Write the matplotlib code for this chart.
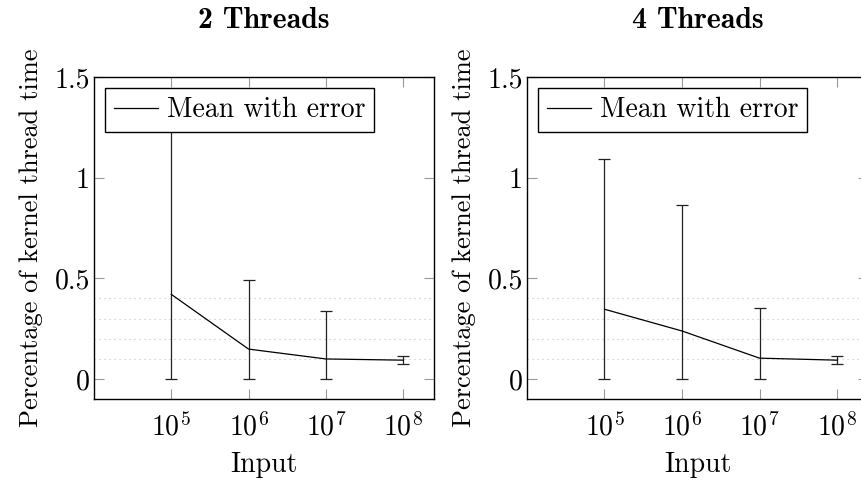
import matplotlib
matplotlib.use("Agg")
import matplotlib.pyplot as plt
from matplotlib.lines import Line2D
import numpy as np

plt.rcParams['font.family'] = ['cmr10', 'DejaVu Serif']
plt.rcParams['mathtext.fontset'] = 'cm'
plt.rcParams['axes.formatter.use_mathtext'] = True

# data
inputs = [1e5, 1e6, 1e7, 1e8]
titles = ["2 Threads", "4 Threads"]
mean_2 = [0.42, 0.148, 0.099, 0.093]
lower_2 = [0.0, 0.0, 0.0, 0.073]
upper_2 = [1.30, 0.49, 0.336, 0.114]
mean_4 = [0.346, 0.238, 0.103, 0.093]
lower_4 = [0.0, 0.0, 0.0, 0.073]
upper_4 = [1.091, 0.864, 0.351, 0.116]
grid_levels = [0.1, 0.2, 0.3, 0.4]
yticks = [0, 0.5, 1, 1.5]
ytick_labels = ["0", "0.5", "1", "1.5"]
xtick_labels = [r"$10^{5}$", r"$10^{6}$", r"$10^{7}$", r"$10^{8}$"]
legend_label = "Mean with error"
xlabel = "Input"
ylabel = "Percentage of kernel thread time"

FS = 20
W, H = 862, 480
fig = plt.figure(figsize=(W / 100, H / 100), dpi=100)

panels = [
    (94, 340, mean_2, lower_2, upper_2, titles[0]),
    (527, 341, mean_4, lower_4, upper_4, titles[1]),
]
for left, width, mean, lo, up, title in panels:
    ax = fig.add_axes([left / W, (H - 399) / H, width / W, 322 / H])
    m = np.array(mean)
    yerr = np.vstack([m - np.array(lo), np.array(up) - m])
    for g in grid_levels:
        ax.axhline(g, color='#c4c4c4', linestyle=(0, (1, 3.5)), linewidth=0.8, zorder=0)
    ax.errorbar(inputs, mean, yerr=yerr, color='black', linewidth=0.9,
                elinewidth=0.9, ecolor='#222222', capsize=4.2, capthick=0.9,
                zorder=3)
    ax.set_xscale('log')
    ax.set_xlim(1e4, 10 ** 8.4)
    ax.set_ylim(-0.1, 1.5)
    ax.set_xticks(inputs)
    ax.set_xticklabels(xtick_labels, fontsize=FS)
    ax.xaxis.set_minor_locator(matplotlib.ticker.NullLocator())
    ax.set_yticks(yticks)
    ax.set_yticklabels(ytick_labels, fontsize=FS)
    ax.tick_params(axis='both', which='major', direction='in', length=7,
                   width=0.8, color='#999999', top=True, right=True)
    ax.tick_params(axis='x', pad=10)
    ax.tick_params(axis='y', pad=3)
    for s in ax.spines.values():
        s.set_linewidth(1.0)
        s.set_color('black')
    ax.set_xlabel(xlabel, fontsize=FS, labelpad=7)
    ax.set_ylabel(ylabel, fontsize=19, labelpad=8)
    ax.set_title(title, fontsize=21.5, fontfamily=['cmb10', 'DejaVu Serif'],
                 pad=35)
    handle = Line2D([], [], color='black', linewidth=0.9)
    leg = ax.legend([handle], [legend_label], loc='upper left', fontsize=FS,
                    fancybox=False, edgecolor='black', framealpha=1,
                    borderaxespad=0.4, handlelength=1.6, handletextpad=0.3,
                    borderpad=0.32)
    leg.get_frame().set_linewidth(1.0)
    leg.set_zorder(10)

fig.savefig("out.png", dpi=100)
